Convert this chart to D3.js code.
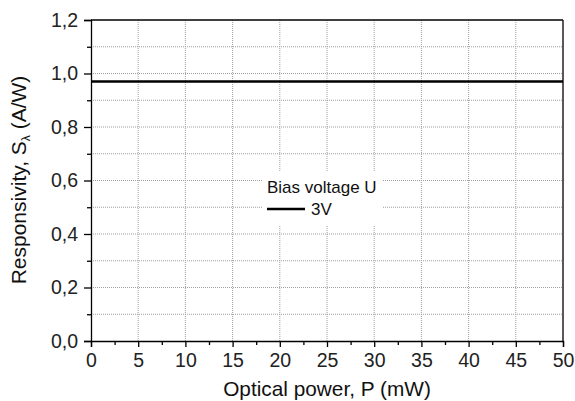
<!DOCTYPE html>
<html>
<head>
<meta charset="utf-8">
<script src="https://cdn.jsdelivr.net/npm/d3@7"></script>
<style>
body{margin:0;background:#fff;}
svg{font-family:"Liberation Sans",Arial,sans-serif;}
</style>
</head>
<body>
<div id="chart"></div>
<script>
var powerX=[0,50];
var respY=[0.97,0.97];
var xTicks=[0,5,10,15,20,25,30,35,40,45,50];
var yTicks=[0,0.2,0.4,0.6,0.8,1.0,1.2];
var legendTitle="Bias voltage U";
var seriesName="3V";

var W=575,H=401;
var pLeft=91,pRight=563,pTop=20,pBottom=341;

var svg=d3.select("#chart").append("svg").attr("width",W).attr("height",H);

var x=d3.scaleLinear().domain([0,50]).range([pLeft,pRight]);
var y=d3.scaleLinear().domain([0,1.2]).range([pBottom,pTop]);

var fmt=function(d){return d3.format(".1f")(d).replace(".",",");};

// grid (dotted)
var gx=d3.range(5,50,5), gy=d3.range(1,12).map(function(i){return i/10;});
svg.append("g").selectAll("line").data(gx).enter().append("line")
	.attr("x1",function(d){return x(d);}).attr("x2",function(d){return x(d);})
	.attr("y1",pTop).attr("y2",pBottom)
	.attr("stroke","#a0a0a0").attr("stroke-width",1).attr("stroke-dasharray","1,1");
svg.append("g").selectAll("line").data(gy).enter().append("line")
	.attr("y1",function(d){return y(d);}).attr("y2",function(d){return y(d);})
	.attr("x1",pLeft).attr("x2",pRight)
	.attr("stroke","#a0a0a0").attr("stroke-width",1).attr("stroke-dasharray","1,1");

// legend box covering grid
svg.append("rect").attr("x",262).attr("y",172).attr("width",120).attr("height",54).attr("fill","#fff");

// frame
svg.append("line").attr("x1",pLeft).attr("x2",pRight).attr("y1",pTop).attr("y2",pTop).attr("stroke","#000").attr("stroke-width",1.3);
svg.append("line").attr("x1",pRight).attr("x2",pRight).attr("y1",pTop).attr("y2",pBottom).attr("stroke","#000").attr("stroke-width",1.3);

// axes
var xAxis=svg.append("g").attr("transform","translate(0,"+pBottom+")")
	.call(d3.axisBottom(x).tickValues(xTicks).tickSize(6).tickPadding(6).tickFormat(d3.format("d")));
svg.append("g").attr("transform","translate(0,"+pBottom+")")
	.call(d3.axisBottom(x).tickValues(d3.range(2.5,50,5)).tickSize(4).tickFormat(""))
	.select(".domain").remove();
var yAxis=svg.append("g").attr("transform","translate("+pLeft+",0)")
	.call(d3.axisLeft(y).tickValues(yTicks).tickSize(7).tickPadding(6).tickFormat(fmt));
svg.append("g").attr("transform","translate("+pLeft+",0)")
	.call(d3.axisLeft(y).tickValues([0.1,0.3,0.5,0.7,0.9,1.1]).tickSize(4).tickFormat(""))
	.select(".domain").remove();

svg.selectAll(".domain").attr("stroke","#000").attr("stroke-width",1.3);
svg.selectAll(".tick line").attr("stroke","#000").attr("stroke-width",1.3);
xAxis.selectAll("text").attr("font-size",19.5).attr("fill","#222").attr("font-family","Liberation Sans, Arial, sans-serif");
yAxis.selectAll("text").attr("font-size",19.5).attr("fill","#222").attr("font-family","Liberation Sans, Arial, sans-serif");

// data line
var line=d3.line().x(function(d,i){return x(powerX[i]);}).y(function(d){return y(d);});
svg.append("path").datum(respY).attr("d",line).attr("fill","none").attr("stroke","#000").attr("stroke-width",2.5);

// legend
svg.append("text").attr("x",267).attr("y",193).attr("font-size",17).attr("fill","#111").text(legendTitle);
svg.append("line").attr("x1",267).attr("x2",305).attr("y1",209).attr("y2",209).attr("stroke","#000").attr("stroke-width",2.5);
svg.append("text").attr("x",311).attr("y",215).attr("font-size",17).attr("fill","#111").text(seriesName);

// axis titles
svg.append("text").attr("x",(pLeft+pRight)/2).attr("y",396).attr("text-anchor","middle")
	.attr("font-size",20.8).attr("fill","#111").text("Optical power, P (mW)");
var yt=svg.append("text").attr("transform","translate(26,180) rotate(-90)").attr("text-anchor","middle")
	.attr("font-size",21).attr("fill","#111");
yt.append("tspan").text("Responsivity, S");
yt.append("tspan").attr("font-size",12).attr("dy",4).text("λ");
yt.append("tspan").attr("dy",-4).text(" (A/W)");
</script>
</body>
</html>
